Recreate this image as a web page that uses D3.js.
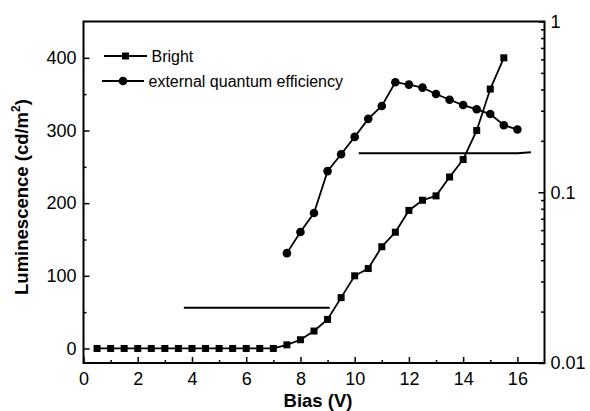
<!DOCTYPE html>
<html>
<head>
<meta charset="utf-8">
<script src="https://cdn.jsdelivr.net/npm/d3@7"></script>
<style>
  html, body { margin: 0; padding: 0; background: #fff; }
  svg { display: block; font-family: "Liberation Sans", Arial, sans-serif; }
</style>
</head>
<body>
<svg id="chart" width="590" height="411"></svg>
<script>
// Bias voltage (V) shared by both measured series
const biasBright = [0.5, 1, 1.5, 2, 2.5, 3, 3.5, 4, 4.5, 5, 5.5, 6, 6.5, 7, 7.5, 8, 8.5, 9, 9.5, 10, 10.5, 11, 11.5, 12, 12.5, 13, 13.5, 14, 14.5, 15, 15.5];
// Luminescence (cd/m^2), left axis
const brightValues = [0, 0, 0, 0, 0, 0, 0, 0, 0, 0, 0, 0, 0, 0, 5, 12, 24, 40, 70, 100, 110, 140, 160, 190, 204, 210, 236, 260, 300, 357, 400];

const biasEqe = [7.5, 8, 8.5, 9, 9.5, 10, 10.5, 11, 11.5, 12, 12.5, 13, 13.5, 14, 14.5, 15, 15.5, 16];
// External quantum efficiency, right (log) axis
const eqeValues = [0.044, 0.0585, 0.0756, 0.133, 0.167, 0.211, 0.269, 0.32, 0.441, 0.427, 0.41, 0.376, 0.348, 0.324, 0.306, 0.287, 0.247, 0.233];

// Axis-pointer guide lines (in left-axis units)
const guideLeftX = [3.7, 9.08];
const guideLeftY = [56, 56];
const guideRightX = [10.15, 16.0, 16.5];
const guideRightY = [268.8, 268.8, 270.2];

const xTicks = [0, 2, 4, 6, 8, 10, 12, 14, 16];
const xMinorTicks = [1, 3, 5, 7, 9, 11, 13, 15];
const yTicks = [0, 100, 200, 300, 400];
const yMinorTicks = [50, 150, 250, 350];
const y2Ticks = [0.01, 0.1, 1];
const y2TickLabels = ["0.01", "0.1", "1"];

const legendLabels = ["Bright", "external quantum efficiency"];

const svg = d3.select("#chart");
svg.append("rect").attr("width", 590).attr("height", 411).attr("fill", "#fff");

const plotL = 83.5, plotR = 544.5, plotT = 21.5, plotB = 363;

const x = d3.scaleLinear().domain([0, 17]).range([plotL, plotR]);
const y = d3.scaleLinear().domain([-20, 450]).range([plotB, plotT]);
const y2 = d3.scaleLog().domain([0.01, 1]).range([plotB, plotT]);

// y2 minor ticks: 2..9 within each decade
const y2MinorTicks = [];
[0.01, 0.1].forEach(d => { for (let k = 2; k <= 9; k++) y2MinorTicks.push(+(d * k).toPrecision(3)); });

const tickFont = 18;

function styleAxis(g) {
  g.select(".domain").remove();
  g.selectAll("line").attr("stroke", "#000").attr("stroke-width", 1.5);
  g.selectAll("text").attr("font-size", tickFont).attr("fill", "#000")
    .attr("font-family", "Liberation Sans, Arial, sans-serif");
}

// Bottom axis
svg.append("g").attr("transform", `translate(0,${plotB})`)
  .call(d3.axisBottom(x).tickValues(xTicks).tickSize(-6).tickPadding(9).tickFormat(d3.format("d")))
  .call(styleAxis);
svg.append("g").attr("transform", `translate(0,${plotB})`)
  .call(d3.axisBottom(x).tickValues(xMinorTicks).tickSize(-3).tickFormat(""))
  .call(styleAxis);

// Left axis
svg.append("g").attr("transform", `translate(${plotL},0)`)
  .call(d3.axisLeft(y).tickValues(yTicks).tickSize(-6).tickPadding(7).tickFormat(d3.format("d")))
  .call(styleAxis);
svg.append("g").attr("transform", `translate(${plotL},0)`)
  .call(d3.axisLeft(y).tickValues(yMinorTicks).tickSize(-3).tickFormat(""))
  .call(styleAxis);

// Right (log) axis
svg.append("g").attr("transform", `translate(${plotR},0)`)
  .call(d3.axisRight(y2).tickValues(y2Ticks).tickSize(-6).tickPadding(6)
    .tickFormat((d, i) => y2TickLabels[i]))
  .call(styleAxis);
svg.append("g").attr("transform", `translate(${plotR},0)`)
  .call(d3.axisRight(y2).tickValues(y2MinorTicks).tickSize(-3.5).tickFormat(""))
  .call(styleAxis);

// Frame
svg.append("rect")
  .attr("x", plotL).attr("y", plotT)
  .attr("width", plotR - plotL).attr("height", plotB - plotT)
  .attr("fill", "none").attr("stroke", "#000").attr("stroke-width", 2);

// Axis titles
svg.append("text")
  .attr("x", 318).attr("y", 407)
  .attr("text-anchor", "middle")
  .attr("font-size", 18.5).attr("font-weight", "bold")
  .text("Bias (V)");

const yTitle = svg.append("text")
  .attr("transform", "translate(28,197) rotate(-90)")
  .attr("text-anchor", "middle")
  .attr("font-size", 18.5).attr("font-weight", "bold");
yTitle.append("tspan").text("Luminescence (cd/m");
yTitle.append("tspan").attr("font-size", 12).attr("dy", -8).text("2");
yTitle.append("tspan").attr("dy", 8).text(")");

// Guide lines
const guide = d3.line().x(d => x(d[0])).y(d => y(d[1]));
svg.append("path")
  .attr("d", guide(d3.zip(guideLeftX, guideLeftY)))
  .attr("fill", "none").attr("stroke", "#000").attr("stroke-width", 2);
svg.append("path")
  .attr("d", guide(d3.zip(guideRightX, guideRightY)))
  .attr("fill", "none").attr("stroke", "#000").attr("stroke-width", 2);

// Bright series (squares, left axis)
const brightData = d3.zip(biasBright, brightValues);
svg.append("path")
  .attr("d", d3.line().x(d => x(d[0])).y(d => y(d[1]))(brightData))
  .attr("fill", "none").attr("stroke", "#000").attr("stroke-width", 1.8);
const sq = 7;
svg.append("g").selectAll("rect").data(brightData).join("rect")
  .attr("x", d => x(d[0]) - sq / 2).attr("y", d => y(d[1]) - sq / 2)
  .attr("width", sq).attr("height", sq).attr("fill", "#000");

// EQE series (circles, right log axis)
const eqeData = d3.zip(biasEqe, eqeValues);
svg.append("path")
  .attr("d", d3.line().x(d => x(d[0])).y(d => y2(d[1]))(eqeData))
  .attr("fill", "none").attr("stroke", "#000").attr("stroke-width", 1.8);
svg.append("g").selectAll("circle").data(eqeData).join("circle")
  .attr("cx", d => x(d[0])).attr("cy", d => y2(d[1]))
  .attr("r", 4.3).attr("fill", "#000");

// Legend
const legend = svg.append("g");
const legendRows = [
  { label: legendLabels[0], x1: 104, x2: 147, yy: 56, marker: "square" },
  { label: legendLabels[1], x1: 102, x2: 144, yy: 81, marker: "circle" }
];
legendRows.forEach(r => {
  legend.append("line").attr("x1", r.x1).attr("x2", r.x2).attr("y1", r.yy).attr("y2", r.yy)
    .attr("stroke", "#000").attr("stroke-width", 1.8);
  const cx = (r.x1 + r.x2) / 2;
  if (r.marker === "square") {
    legend.append("rect").attr("x", cx - sq / 2).attr("y", r.yy - sq / 2)
      .attr("width", sq).attr("height", sq).attr("fill", "#000");
  } else {
    legend.append("circle").attr("cx", cx).attr("cy", r.yy).attr("r", 4.3).attr("fill", "#000");
  }
  legend.append("text").attr("x", r.x2 + 4.5).attr("y", r.yy + 5.5)
    .attr("font-size", 16).attr("fill", "#000").text(r.label);
});
</script>
</body>
</html>
